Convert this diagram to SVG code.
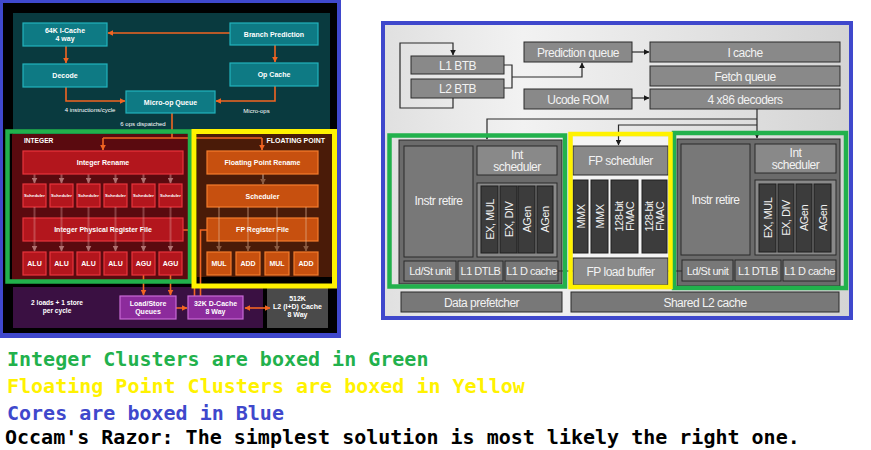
<svg xmlns="http://www.w3.org/2000/svg" width="871" height="450" viewBox="0 0 871 450">
<defs>
<style>
.lt{font-family:"Liberation Sans",Arial,sans-serif;font-weight:bold;fill:#fff;text-anchor:middle;font-size:7px}
.ln{font-family:"Liberation Sans",Arial,sans-serif;fill:#fff;text-anchor:middle;font-size:6px}
.teal{fill:#0e7a84;stroke:#22b2bc;stroke-width:1.2}
.ired{fill:#b3161d;stroke:#e8353c;stroke-width:1.2}
.fpo{fill:#c7500f;stroke:#f57c2c;stroke-width:1.2}
.pur{fill:#8c2b9c;stroke:#c96ad6;stroke-width:1.2}
.rt{font-family:"Liberation Sans",Arial,sans-serif;fill:#f2f2f2;text-anchor:middle;font-size:12px;letter-spacing:-0.5px}
.rs{font-size:11px}
.gb{fill:#898989;stroke:#2a2a2a;stroke-width:1}
.gm{fill:#787878;stroke:#2a2a2a;stroke-width:1}
.gd{fill:#3c3c3c;stroke:#1e1e1e;stroke-width:1}
.leg{font-family:"DejaVu Sans Mono","Liberation Mono",monospace;font-weight:bold;font-size:20px}
</style>
<marker id="ao" viewBox="0 0 10 10" refX="9" refY="5" markerWidth="6" markerHeight="6" markerUnits="userSpaceOnUse" orient="auto-start-reverse"><path d="M0,0 L10,5 L0,10 z" fill="#f26522"/></marker>
<marker id="af" viewBox="0 0 10 10" refX="9" refY="5" markerWidth="6" markerHeight="6" markerUnits="userSpaceOnUse" orient="auto"><path d="M0,0 L10,5 L0,10 z" fill="#b07070"/></marker>
<marker id="afb" viewBox="0 0 10 10" refX="9" refY="5" markerWidth="6" markerHeight="6" markerUnits="userSpaceOnUse" orient="auto"><path d="M0,0 L10,5 L0,10 z" fill="#8a5a40"/></marker>
<marker id="ad" viewBox="0 0 10 10" refX="9" refY="5" markerWidth="6" markerHeight="6" markerUnits="userSpaceOnUse" orient="auto"><path d="M0,0 L10,5 L0,10 z" fill="#1a1a1a"/></marker>
<linearGradient id="bg" x1="0" y1="0" x2="1" y2="0">
<stop offset="0" stop-color="#e0e0e0"/><stop offset="0.3" stop-color="#f2f2f2"/><stop offset="1" stop-color="#d4d4d4"/>
</linearGradient>
</defs>

<!-- LEFT DIAGRAM -->
<g id="left-core">
<rect x="0" y="0" width="341" height="338" fill="#3f48cc"/>
<rect x="3" y="3" width="334" height="330" fill="#000"/>
<rect x="13" y="13" width="317" height="121" fill="#093a3f"/>
<rect x="12" y="134" width="176" height="146" fill="#5a0a0f"/>
<rect x="197" y="134" width="135" height="143" fill="#4a1b08"/>
<rect x="13" y="287" width="250" height="41" fill="#3a1042"/>
<rect x="267" y="288" width="61" height="40" fill="#4a4a4a"/>
<text class="lt" x="24" y="143" style="text-anchor:start;font-size:6.6px">INTEGER</text>
<text class="lt" x="325" y="143" style="text-anchor:end">FLOATING POINT</text>
<text class="lt" x="57" y="304.5" style="font-size:6.6px">2 loads + 1 store</text>
<text class="lt" x="57" y="312.5" style="font-size:6.6px">per cycle</text>
<text class="ln" x="90" y="112">4 instructions/cycle</text>
<text class="ln" x="256.5" y="113">Micro-ops</text>
<text class="ln" x="143" y="125.5">6 ops dispatched</text>
</g>

<g id="left-connectors" fill="none">
<g stroke="#f26522" stroke-width="1.6">
<path d="M230,33 H108" marker-end="url(#ao)"/>
<path d="M66,46 V63" marker-end="url(#ao)"/>
<path d="M275,45 V62" marker-end="url(#ao)"/>
<path d="M66,87 V101 H125" marker-end="url(#ao)"/>
<path d="M275,86 V101 H216" marker-end="url(#ao)"/>
<path d="M172,113 V138"/>
<path d="M103,138 H262"/>
<path d="M103,138 V150" marker-end="url(#ao)"/>
<path d="M262,138 V150" marker-end="url(#ao)"/>
<path d="M183,230 H194.5 V296"/>
<path d="M207,230 H200.5 V296"/>
<path d="M143.5,275 V295" marker-end="url(#ao)"/>
<path d="M170.5,275 V295" marker-end="url(#ao)"/>
<path d="M176,308 H187" marker-end="url(#ao)"/>
<path d="M245,308 H270" marker-start="url(#ao)" marker-end="url(#ao)"/>
</g>
<g stroke="#d09090" stroke-opacity="0.5" stroke-width="2">
<path d="M34.5,174 V183" marker-end="url(#af)"/>
<path d="M61.5,174 V183" marker-end="url(#af)"/>
<path d="M88.5,174 V183" marker-end="url(#af)"/>
<path d="M115.5,174 V183" marker-end="url(#af)"/>
<path d="M143.5,174 V183" marker-end="url(#af)"/>
<path d="M170.5,174 V183" marker-end="url(#af)"/>
</g>
<g stroke="#a08070" stroke-opacity="0.7" stroke-width="2">
<path d="M263,174 V184" marker-end="url(#afb)"/>
</g>
</g>

<g id="n-icache"><rect class="teal" x="23" y="23" width="84" height="23"/><text class="lt" x="65" y="32.5">64K I-Cache</text><text class="lt" x="65" y="40.5">4 way</text></g>
<g id="n-branch"><rect class="teal" x="230" y="23" width="88" height="22"/><text class="lt" x="274" y="36.5">Branch Prediction</text></g>
<g id="n-decode"><rect class="teal" x="23" y="64" width="84" height="23"/><text class="lt" x="65" y="78">Decode</text></g>
<g id="n-opcache"><rect class="teal" x="230" y="63" width="88" height="23"/><text class="lt" x="274" y="77">Op Cache</text></g>
<g id="n-uopq"><rect class="teal" x="126" y="91" width="89" height="22"/><text class="lt" x="170.5" y="104.5">Micro-op Queue</text></g>

<g id="n-int-rename"><rect class="ired" x="23" y="151" width="160" height="23"/><text class="lt" x="103" y="165">Integer Rename</text></g>
<g id="n-int-sched">
<rect class="ired" x="23" y="184" width="23" height="23"/><rect class="ired" x="50" y="184" width="23" height="23"/><rect class="ired" x="77" y="184" width="23" height="23"/><rect class="ired" x="104" y="184" width="23" height="23"/><rect class="ired" x="132" y="184" width="23" height="23"/><rect class="ired" x="159" y="184" width="23" height="23"/>
<g class="lt" style="font-size:4.3px"><text x="34.5" y="197">Scheduler</text><text x="61.5" y="197">Scheduler</text><text x="88.5" y="197">Scheduler</text><text x="115.5" y="197">Scheduler</text><text x="143.5" y="197">Scheduler</text><text x="170.5" y="197">Scheduler</text></g>
</g>
<g id="n-int-prf"><rect class="ired" x="23" y="218" width="160" height="23"/><text class="lt" x="103" y="232">Integer Physical Register File</text></g>
<g id="n-int-units">
<rect class="ired" x="23" y="252" width="23" height="23"/><rect class="ired" x="50" y="252" width="23" height="23"/><rect class="ired" x="77" y="252" width="23" height="23"/><rect class="ired" x="104" y="252" width="23" height="23"/><rect class="ired" x="132" y="252" width="23" height="23"/><rect class="ired" x="159" y="252" width="23" height="23"/>
<g class="lt"><text x="34.5" y="266">ALU</text><text x="61.5" y="266">ALU</text><text x="88.5" y="266">ALU</text><text x="115.5" y="266">ALU</text><text x="143.5" y="266">AGU</text><text x="170.5" y="266">AGU</text></g>
</g>
<g id="int-lanes" fill="none" stroke="#e0a0a0" stroke-opacity="0.35" stroke-width="2">
<path d="M34.5,207 V251" marker-end="url(#af)"/><path d="M61.5,207 V251" marker-end="url(#af)"/><path d="M88.5,207 V251" marker-end="url(#af)"/><path d="M115.5,207 V251" marker-end="url(#af)"/><path d="M143.5,207 V251" marker-end="url(#af)"/><path d="M170.5,207 V251" marker-end="url(#af)"/>
</g>

<g id="n-fp-rename"><rect class="fpo" x="207" y="151" width="111" height="23"/><text class="lt" x="262.5" y="165">Floating Point Rename</text></g>
<g id="n-fp-sched"><rect class="fpo" x="207" y="185" width="111" height="22"/><text class="lt" x="262.5" y="198.5">Scheduler</text></g>
<g id="n-fp-prf"><rect class="fpo" x="207" y="218" width="111" height="23"/><text class="lt" x="262.5" y="232">FP Register File</text></g>
<g id="n-fp-units">
<rect class="fpo" x="207" y="252" width="24" height="23"/><rect class="fpo" x="236" y="252" width="24" height="23"/><rect class="fpo" x="265" y="252" width="24" height="23"/><rect class="fpo" x="294" y="252" width="24" height="23"/>
<g class="lt"><text x="219" y="266">MUL</text><text x="248" y="266">ADD</text><text x="277" y="266">MUL</text><text x="306" y="266">ADD</text></g>
</g>
<g id="fp-lanes" fill="none" stroke="#e0b090" stroke-opacity="0.35" stroke-width="2">
<path d="M219,207 V251" marker-end="url(#afb)"/><path d="M248,207 V251" marker-end="url(#afb)"/><path d="M277,207 V251" marker-end="url(#afb)"/><path d="M306,207 V251" marker-end="url(#afb)"/>
</g>

<g id="n-lsq"><rect class="pur" x="120" y="296" width="56" height="23"/><text class="lt" x="148" y="305.5">Load/Store</text><text class="lt" x="148" y="314">Queues</text></g>
<g id="n-dcache"><rect class="pur" x="188" y="296" width="55" height="23"/><text class="lt" x="215.5" y="305.5">32K D-Cache</text><text class="lt" x="215.5" y="314">8 Way</text></g>
<g id="n-l2"><text class="lt" x="297.5" y="300.5">512K</text><text class="lt" x="297.5" y="308.5">L2 (I+D) Cache</text><text class="lt" x="297.5" y="316.5">8 Way</text></g>

<g id="left-annotations" fill="none">
<rect x="7.5" y="131.5" width="182.5" height="150" stroke="#22b14c" stroke-width="4.5"/>
<rect x="194" y="131.5" width="140.5" height="154.5" stroke="#fff200" stroke-width="5"/>
</g>

<!-- RIGHT DIAGRAM -->
<g id="right-core">
<rect x="383" y="23" width="468" height="295" fill="url(#bg)" stroke="#3f48cc" stroke-width="4"/>
<rect x="399" y="140" width="163" height="144" fill="#6b6b6b" stroke="#2a2a2a"/>
<rect x="573" y="137" width="95" height="148" fill="#f4f4f4"/>
<rect x="677" y="139" width="163" height="147" fill="#6b6b6b" stroke="#2a2a2a"/>
</g>

<g id="right-connectors" fill="none" stroke="#2a2a2a" stroke-width="1.2">
<path d="M453,98 V108 H400 V43 H453 V55" marker-end="url(#ad)"/>
<path d="M504,65 H512 V88 H504"/>
<path d="M512,77 H582 V63" marker-end="url(#ad)"/>
<path d="M632,52 H649" marker-end="url(#ad)"/>
<path d="M632,98 H649" marker-end="url(#ad)"/>
<path d="M757,109 V138" marker-end="url(#ad)"/>
<path d="M757,119 H487 V139" marker-end="url(#ad)"/>
<path d="M757,125 H618.5 V145" marker-end="url(#ad)"/>
<path d="M558,271 H573 M565,267.5 V274.5"/>
<path d="M668,271 H682 M675,267.5 V274.5"/>
</g>

<g id="r-l1btb"><rect class="gb" x="411" y="56" width="93" height="18"/><text class="rt" x="457.5" y="69.5">L1 BTB</text></g>
<g id="r-l2btb"><rect class="gb" x="411" y="79" width="93" height="19"/><text class="rt" x="457.5" y="93">L2 BTB</text></g>
<g id="r-predq"><rect class="gb" x="524" y="42" width="108" height="20"/><text class="rt" x="578" y="56.5">Prediction queue</text></g>
<g id="r-icache"><rect class="gb" x="650" y="42" width="190" height="20"/><text class="rt" x="745" y="56.5">I cache</text></g>
<g id="r-fetchq"><rect class="gb" x="650" y="66" width="190" height="20"/><text class="rt" x="745" y="80.5">Fetch queue</text></g>
<g id="r-ucode"><rect class="gb" x="524" y="89" width="108" height="20"/><text class="rt" x="578" y="103.5">Ucode ROM</text></g>
<g id="r-decoders"><rect class="gb" x="650" y="89" width="190" height="20"/><text class="rt" x="745" y="103.5">4 x86 decoders</text></g>

<g id="r-left-int">
<rect class="gm" x="404" y="146" width="69" height="111"/><text class="rt" x="438.5" y="205">Instr retire</text>
<rect class="gb" x="477" y="146" width="80" height="29"/><text class="rt" x="517" y="158.5">Int</text><text class="rt" x="517" y="171">scheduler</text>
<rect class="gb" x="477" y="183" width="80" height="74"/>
<rect class="gd" x="481" y="186" width="17" height="67"/><rect class="gd" x="500" y="186" width="17" height="67"/><rect class="gd" x="518" y="186" width="17" height="67"/><rect class="gd" x="537" y="186" width="16" height="67"/>
<g class="rt rs"><text transform="translate(493.5,219.5) rotate(-90)">EX, MUL</text><text transform="translate(512.5,219.5) rotate(-90)">EX, DIV</text><text transform="translate(530.5,219.5) rotate(-90)">AGen</text><text transform="translate(549,219.5) rotate(-90)">AGen</text></g>
<rect class="gm" x="404" y="261" width="52" height="20"/><text class="rt rs" x="430" y="275">Ld/St unit</text>
<rect class="gm" x="458" y="261" width="45" height="20"/><text class="rt rs" x="480.5" y="275">L1 DTLB</text>
<rect class="gm" x="505" y="261" width="53" height="20"/><text class="rt rs" x="531.5" y="275">L1 D cache</text>
</g>

<g id="r-fp">
<rect class="gb" x="573" y="146" width="95" height="29"/><text class="rt" x="620.5" y="164.5">FP scheduler</text>
<rect class="gd" x="573" y="180" width="15" height="73"/><rect class="gd" x="591" y="180" width="17" height="73"/><rect class="gd" x="611" y="180" width="27" height="73"/><rect class="gd" x="642" y="180" width="25" height="73"/>
<g class="rt rs"><text transform="translate(584.5,216.5) rotate(-90)">MMX</text><text transform="translate(603.5,216.5) rotate(-90)">MMX</text><text transform="translate(623,216.5) rotate(-90)">128-bit</text><text transform="translate(634,216.5) rotate(-90)">FMAC</text><text transform="translate(653,216.5) rotate(-90)">128-bit</text><text transform="translate(664,216.5) rotate(-90)">FMAC</text></g>
<rect class="gb" x="573" y="258" width="95" height="27"/><text class="rt" x="620.5" y="276">FP load buffer</text>
</g>

<g id="r-right-int">
<rect class="gm" x="681" y="144" width="69" height="111"/><text class="rt" x="715.5" y="204">Instr retire</text>
<rect class="gb" x="755" y="144" width="81" height="29"/><text class="rt" x="795.5" y="156.5">Int</text><text class="rt" x="795.5" y="169">scheduler</text>
<rect class="gb" x="755" y="180" width="81" height="75"/>
<rect class="gd" x="759" y="184" width="17" height="68"/><rect class="gd" x="778" y="184" width="16" height="68"/><rect class="gd" x="796" y="184" width="16" height="68"/><rect class="gd" x="814" y="184" width="17" height="68"/>
<g class="rt rs"><text transform="translate(771.5,218) rotate(-90)">EX, MUL</text><text transform="translate(790,218) rotate(-90)">EX, DIV</text><text transform="translate(808,218) rotate(-90)">AGen</text><text transform="translate(826.5,218) rotate(-90)">AGen</text></g>
<rect class="gm" x="682" y="260" width="51" height="21"/><text class="rt rs" x="707.5" y="274.5">Ld/St unit</text>
<rect class="gm" x="735" y="260" width="46" height="21"/><text class="rt rs" x="758" y="274.5">L1 DTLB</text>
<rect class="gm" x="783" y="260" width="53" height="21"/><text class="rt rs" x="809.5" y="274.5">L1 D cache</text>
</g>

<g id="r-prefetch"><rect class="gm" x="401" y="292" width="161" height="20"/><text class="rt" x="481.5" y="306.5">Data prefetcher</text></g>
<g id="r-l2"><rect class="gm" x="571" y="292" width="268" height="20"/><text class="rt" x="705" y="306.5">Shared L2 cache</text></g>

<g id="right-annotations" fill="none" stroke-width="4.5">
<rect x="389.5" y="135.5" width="175.5" height="151" stroke="#22b14c"/>
<rect x="674" y="133" width="172" height="155" stroke="#22b14c"/>
<rect x="570.5" y="134" width="100" height="153" stroke="#fff200"/>
</g>

<g id="legend" class="leg">
<text x="7" y="366" fill="#22b14c">Integer Clusters are boxed in Green</text>
<text x="7" y="393" fill="#fff200">Floating Point Clusters are boxed in Yellow</text>
<text x="7" y="420" fill="#3f48cc">Cores are boxed in Blue</text>
<text x="5" y="444" fill="#000">Occam's Razor: The simplest solution is most likely the right one.</text>
</g>
</svg>
